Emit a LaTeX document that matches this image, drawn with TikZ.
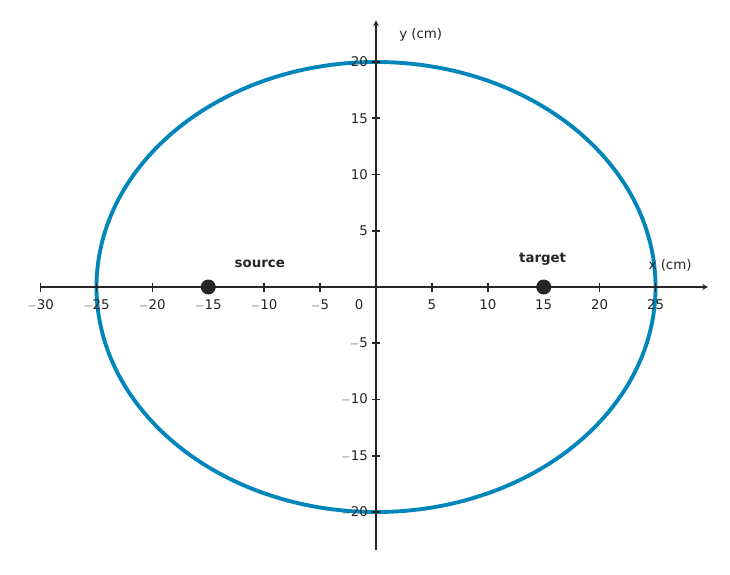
\documentclass[tikz,border=0pt]{standalone}
\usepackage{fontspec}
\setmainfont{DejaVu Sans}
\begin{document}
\begin{tikzpicture}[x=0.559cm,y=0.5625cm,
  ax/.style={line width=2.6pt,color=black!85},
  tk/.style={line width=2.2pt,color=black!85},
  lab/.style={font=\fontsize{19}{22}\selectfont,text=black!85},
  pt/.style={circle,fill=black!85,inner sep=0pt,minimum size=0.75cm}]
\useasboundingbox (-33.63,-25.51) rectangle (31.66,25.51);
\draw[line width=5.5pt,color={rgb,255:red,0;green,134;blue,186}] (0,0) ellipse (25 and 20);
\coordinate (xs) at (-30,0); \coordinate (xe) at (29.7,0);
\coordinate (ys) at (0,-23.4); \coordinate (ye) at (0,23.7);
\draw[ax,-stealth] (xs) -- (xe);
\draw[ax,-stealth] (ys) -- (ye);
\foreach \v in {-30,-25,-20,-15,-10,-5,5,10,15,20,25}{
  \draw[tk] (\v,0.4) -- (\v,-0.4);
  \node[lab] (xl\v) at (\v,-1.6) {\ifnum\v<0 $-$\fi\the\numexpr\ifnum\v<0 -\fi\v\relax};
}
\node[lab] (x0) at (-1.5,-1.6) {0};
\foreach \v in {-20,-15,-10,-5,5,10,15,20}{
  \draw[tk] (-0.4,\v) -- (0.4,\v);
  \node[lab,anchor=east] (yl\v) at (-0.5,\v) {\ifnum\v<0 $-$\fi\the\numexpr\ifnum\v<0 -\fi\v\relax};
}
\node[pt] (src) at (-15,0) {};
\node[pt] (tgt) at (15,0) {};
\node[lab,font=\fontsize{19}{22}\selectfont\bfseries] (srcl) at (-10.4,2.1) {source};
\node[lab,font=\fontsize{19}{22}\selectfont\bfseries] (tgtl) at (14.9,2.5) {target};
\node[lab] (xlab) at (26.3,1.9) {x (cm)};
\node[lab] (ylab) at (4.0,22.4) {y (cm)};
\end{tikzpicture}
\end{document}
